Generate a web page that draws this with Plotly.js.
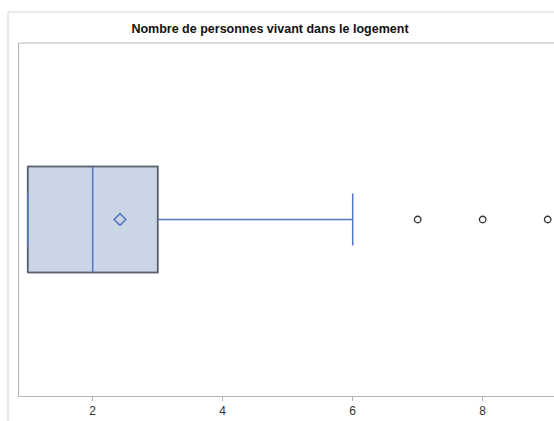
<!DOCTYPE html>
<html><head><meta charset="utf-8">
<script src="https://cdn.plot.ly/plotly-3.0.1.min.js"></script>
<style>html,body{margin:0;padding:0;overflow:hidden;background:#fff}</style>
</head><body><div id="chart" style="width:554px;height:421px"></div>
<script>
// Summary statistics
const q1 = 1;
const median = 2;
const q3 = 3;
const lowerWhisker = 1;
const upperWhisker = 6;
const meanValue = 2.42;
const outliers = [7, 8, 9];
const tickValues = [2, 4, 6, 8];
const tickLabels = ['2', '4', '6', '8'];
const chartTitle = 'Nombre de personnes vivant dans le logement';

const blue = '#5477C4';
const capHalf = 0.245;
const zeros = outliers.map(() => 0);

const traces = [
  { // box: fill, median, whiskers and caps in blue
    type: 'box', orientation: 'h', y: [0], q1: [q1], median: [median], q3: [q3],
    lowerfence: [lowerWhisker], upperfence: [upperWhisker],
    width: 1, whiskerwidth: 0.49, fillcolor: '#CAD5E5',
    line: {color: blue, width: 1.5}, boxpoints: false, hoverinfo: 'skip', showlegend: false
  },
  { // grey box outline
    type: 'scatter', mode: 'lines', x: [q1, q3, q3, q1, q1], y: [-0.5, -0.5, 0.5, 0.5, -0.5],
    line: {color: '#606060', width: 1.6}, showlegend: false, hoverinfo: 'skip'
  },
  { // lower cap drawn over outline
    type: 'scatter', mode: 'lines', x: [lowerWhisker, lowerWhisker], y: [-capHalf, capHalf],
    line: {color: blue, width: 1.5}, showlegend: false, hoverinfo: 'skip'
  },
  { // mean
    type: 'scatter', mode: 'markers', x: [meanValue], y: [0],
    marker: {symbol: 'diamond-open', size: 9, color: blue, line: {width: 1.5, color: blue}},
    showlegend: false
  },
  { // outliers
    type: 'scatter', mode: 'markers', x: outliers, y: zeros,
    marker: {symbol: 'circle-open', size: 6.5, color: '#333', line: {width: 1.3, color: '#333'}},
    showlegend: false, cliponaxis: false
  }
];

const pxPerUnit = 65;
const layout = {
  width: 554, height: 421,
  margin: {l: 19, r: 0, t: 43, b: 25, pad: 0},
  paper_bgcolor: '#fff', plot_bgcolor: '#fff',
  font: {family: 'Liberation Sans, Arial, sans-serif', color: '#333', size: 12},
  title: {text: '<b>' + chartTitle + '</b>', x: 270 / 554, xanchor: 'center', xref: 'container',
          y: 1 - 28.5 / 421, yanchor: 'middle', yref: 'container', font: {size: 12.5, color: '#111'}},
  xaxis: {
    range: [1 - 8.7 / pxPerUnit, 1 + 526.3 / pxPerUnit],
    tickvals: tickValues, ticktext: tickLabels,
    showgrid: false, zeroline: false, showline: true, linecolor: '#b4b4b4', linewidth: 1,
    ticks: 'outside', ticklen: 4, tickcolor: '#b4b4b4', tickfont: {size: 12, color: '#333'}
  },
  yaxis: {
    range: [-1.665, 1.665], showticklabels: false, ticks: '', showgrid: false, zeroline: false,
    showline: true, linecolor: '#b4b4b4', linewidth: 1
  },
  shapes: [
    {type: 'line', xref: 'paper', yref: 'paper', x0: 0, x1: 1, y0: 1, y1: 1, line: {color: '#b4b4b4', width: 1}},
    {type: 'line', xref: 'paper', yref: 'paper', x0: -11 / 535, x1: -11 / 535, y0: 384 / 353, y1: -30 / 353, line: {color: '#d4d4d4', width: 1}},
    {type: 'line', xref: 'paper', yref: 'paper', x0: -11 / 535, x1: 1.05, y0: 384 / 353, y1: 384 / 353, line: {color: '#d4d4d4', width: 1}}
  ]
};
Plotly.newPlot('chart', traces, layout, {displayModeBar: false, staticPlot: true});
</script></body></html>
